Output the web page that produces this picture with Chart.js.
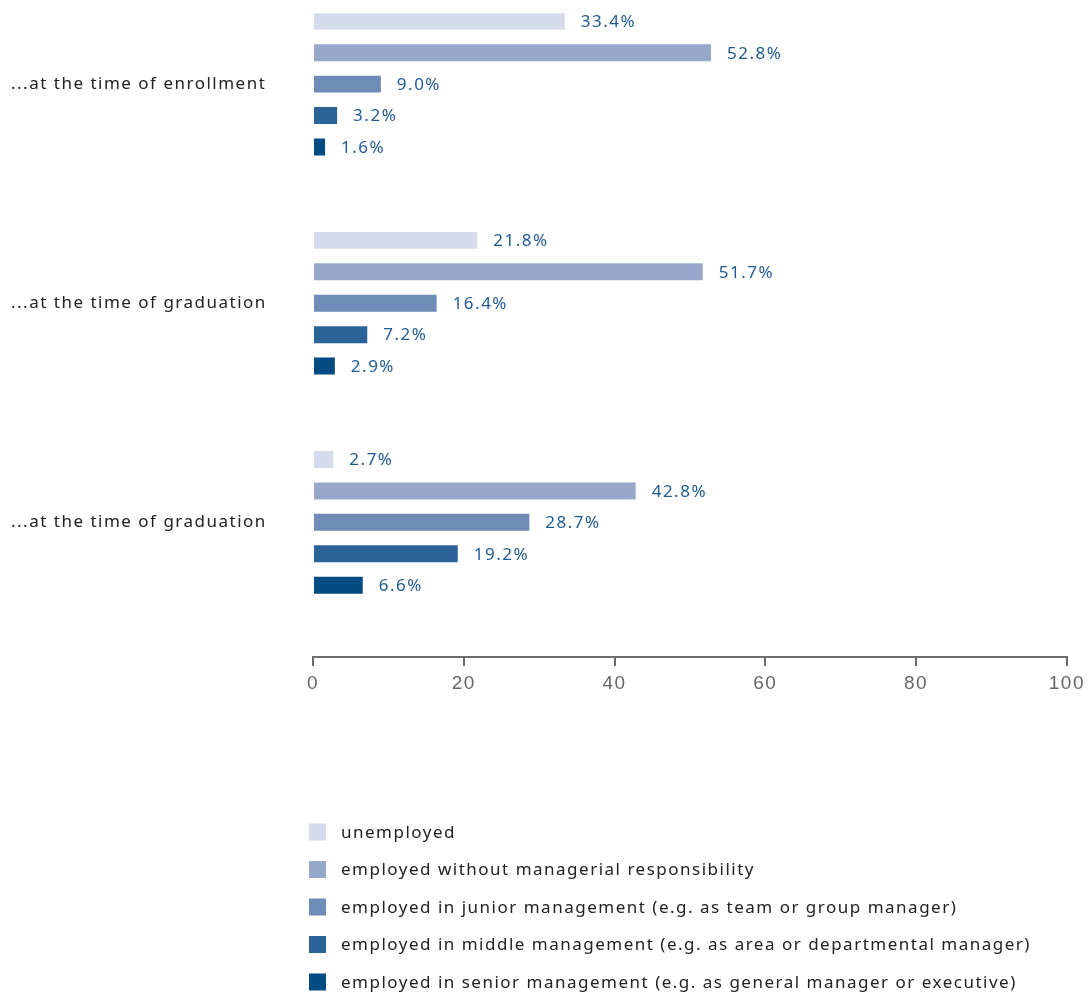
<!DOCTYPE html>
<html>
<head>
<meta charset="utf-8">
<script src="https://cdn.jsdelivr.net/npm/chart.js@4/dist/chart.umd.min.js"></script>
<style>
  html, body { margin: 0; padding: 0; background: #fff; }
  #box { width: 1091px; height: 992px; }
</style>
</head>
<body>
<div id="box"><canvas id="myChart"></canvas></div>
<script>
// groups shown on the y axis
const groups = ["...at the time of enrollment", "...at the time of graduation", "...at the time of graduation"];
// employment status series
const seriesNames = [
  "unemployed",
  "employed without managerial responsibility",
  "employed in junior management (e.g. as team or group manager)",
  "employed in middle management (e.g. as area or departmental manager)",
  "employed in senior management (e.g. as general manager or executive)"
];
const unemployed = [33.4, 21.8, 2.7];
const noManagerial = [52.8, 51.7, 42.8];
const juniorMgmt = [9.0, 16.4, 28.7];
const middleMgmt = [3.2, 7.2, 19.2];
const seniorMgmt = [1.6, 2.9, 6.6];
const xTicks = [0, 20, 40, 60, 80, 100];

const seriesValues = [unemployed, noManagerial, juniorMgmt, middleMgmt, seniorMgmt];
const colors = ['#d5dbea', '#97a9cb', '#6f8cb8', '#2b6398', '#044a83'];

const FONT = '"Noto Sans", Lato, sans-serif';

const spacing = {
  id: 'spacing',
  beforeUpdate(chart) { chart.ctx.letterSpacing = '1.5px'; },
  beforeDraw(chart) { chart.ctx.letterSpacing = '1.5px'; }
};

// value labels right of each bar
const valueLabels = {
  id: 'valueLabels',
  afterDatasetsDraw(chart) {
    const ctx = chart.ctx;
    ctx.save();
    ctx.font = '17px ' + FONT;
    ctx.fillStyle = '#1f5b93';
    ctx.textAlign = 'left';
    ctx.textBaseline = 'middle';
    chart.data.datasets.forEach((ds, i) => {
      chart.getDatasetMeta(i).data.forEach((bar, j) => {
        ctx.fillText(ds.data[j].x.toFixed(1) + '%', bar.x + 16, bar.y + 1);
      });
    });
    ctx.restore();
  }
};

// one legend entry per row, below the axis
const rowLegend = {
  id: 'rowLegend',
  afterDraw(chart) {
    const ctx = chart.ctx;
    ctx.save();
    ctx.font = '17px ' + FONT;
    ctx.textAlign = 'left';
    ctx.textBaseline = 'middle';
    chart.data.datasets.forEach((ds, i) => {
      const y = 832 + i * 37.5;
      ctx.fillStyle = ds.backgroundColor;
      ctx.fillRect(309, y - 8.5, 17, 17);
      ctx.fillStyle = '#222';
      ctx.fillText(ds.label, 341, y + 1);
    });
    ctx.restore();
  }
};

const data = {
  datasets: seriesNames.map((name, k) => ({
    label: name,
    data: groups.map((g, i) => ({ x: seriesValues[k][i], y: i })),
    backgroundColor: colors[k],
    categoryPercentage: 0.717,
    barPercentage: 0.54
  }))
};

const config = {
  type: 'bar',
  data: data,
  options: {
    indexAxis: 'y',
    responsive: true,
    maintainAspectRatio: false,
    animation: false,
    layout: { padding: { left: 11, top: 0, right: 23, bottom: 0 } },
    plugins: {
      legend: { display: false },
      tooltip: { enabled: false }
    },
    scales: {
      x: {
        type: 'linear',
        min: 0,
        max: 100,
        afterBuildTicks: s => { s.ticks = xTicks.map(v => ({ value: v })); },
        afterFit: s => { s.height = 335; },
        grid: { display: true, drawOnChartArea: false, drawTicks: true, tickLength: 9, color: '#6b6b6b', lineWidth: 2 },
        border: { display: true, color: '#6b6b6b', width: 2 },
        ticks: {
          color: '#666',
          padding: 6,
          maxRotation: 0,
          font: { family: '"Liberation Sans Narrow", "Liberation Sans", sans-serif', size: 19 }
        }
      },
      y: {
        type: 'linear',
        reverse: true,
        offset: false,
        min: -0.3237,
        max: 2.6146,
        afterBuildTicks: s => { s.ticks = groups.map((g, i) => ({ value: i })); },
        afterFit: s => { s.width = 302; },
        grid: { display: false, offset: false },
        border: { display: false },
        ticks: {
          crossAlign: 'far',
          color: '#222',
          font: { family: FONT, size: 17 },
          callback: v => groups[v]
        }
      }
    }
  },
  plugins: [spacing, valueLabels, rowLegend]
};

const myChart = new Chart(document.getElementById('myChart'), config);
</script>
</body>
</html>
